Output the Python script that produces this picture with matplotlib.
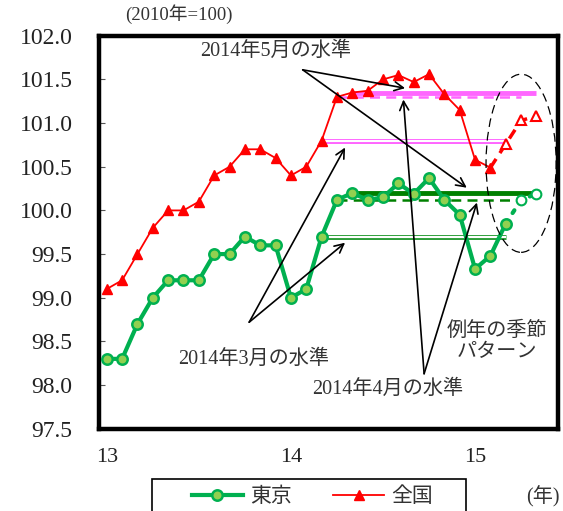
import matplotlib
matplotlib.use("Agg")
import matplotlib.pyplot as plt
from matplotlib.patches import Ellipse, Rectangle
import numpy as np

plt.rcParams['font.family'] = ['Liberation Serif', 'Noto Sans CJK JP', 'DejaVu Sans']

# ---- data (month index: 0 = Jan 2013) ----
zenkoku = [99.1, 99.2, 99.5, 99.8, 100.0, 100.0, 100.1, 100.4, 100.5, 100.7, 100.7, 100.6,
           100.4, 100.5, 100.8, 101.3, 101.35, 101.37, 101.5, 101.55, 101.47, 101.56, 101.33, 101.15,
           100.58, 100.49]
zenkoku_fc = [100.76, 101.03, 101.08]          # Mar-May 2015 (seasonal pattern)
tokyo = [98.3, 98.3, 98.7, 99.0, 99.2, 99.2, 99.2, 99.5, 99.5, 99.7, 99.6, 99.6,
         99.0, 99.1, 99.7, 100.12, 100.2, 100.12, 100.15, 100.31, 100.19, 100.37, 100.12, 99.95,
         99.33, 99.48, 99.85]
tokyo_fc = [100.12, 100.19]                     # Apr-May 2015 (seasonal pattern)
xtick_pos = [0, 12, 24]
xtick_labels = ['13', '14', '15']
yticks = [97.5, 98.0, 98.5, 99.0, 99.5, 100.0, 100.5, 101.0, 101.5, 102.0]

MAR, APR, MAY = 14, 15, 16   # 2014 Mar/Apr/May indices

fig = plt.figure(figsize=(5.63, 5.11), dpi=100)
ax = fig.add_axes([0.176, 0.161, 0.815, 0.769])

GREEN = '#00B050'
LGREEN = '#92D050'
DGREEN = '#008000'
MAG = '#FF66FF'
RED = '#FF0000'
TXT = '#333333'

# ---- level lines ----
def level(series, idx, color, kind):
    y = series[idx]
    xs = [idx, idx + 12]
    if kind == 'thick':
        ax.plot(xs, [y, y], color=color, lw=3.5, zorder=2, solid_capstyle='butt')
    elif kind == 'dash':
        ax.plot(xs, [y, y], color=color, lw=1.8, ls=(0, (4, 2.5)), zorder=2)
    else:
        ax.plot(xs, [y, y], color=color, lw=3.6, zorder=2, solid_capstyle='butt')
        ax.plot(xs, [y, y], color='white', lw=1.5, zorder=2.1, solid_capstyle='butt')

level(zenkoku, MAY, MAG, 'thick')
level(zenkoku, APR, MAG, 'dash')
level(zenkoku, MAR, MAG, 'double')
level(tokyo, MAY, DGREEN, 'thick')
level(tokyo, APR, DGREEN, 'dash')
level(tokyo, MAR, '#2E9E3A', 'double')

# ---- series ----
xz = np.arange(len(zenkoku))
xt = np.arange(len(tokyo))
xz_fc = np.arange(len(zenkoku) - 1, len(zenkoku) + len(zenkoku_fc))
xt_fc = np.arange(len(tokyo) - 1, len(tokyo) + len(tokyo_fc))

ax.plot(xz_fc, [zenkoku[-1]] + zenkoku_fc, color=RED, lw=2.5, ls=(0, (3, 2)), zorder=3)
ax.plot(xz_fc[1:], zenkoku_fc, ls='none', marker='^', ms=7, mfc='white', mec=RED, mew=1.5, zorder=3.5)
ax.plot(xt_fc, [tokyo[-1]] + tokyo_fc, color=GREEN, lw=3, ls=(0, (0.8, 2.2)), zorder=3,
        dash_capstyle='round')
ax.plot(xt_fc[1:], tokyo_fc, ls='none', marker='o', ms=7, mfc='white', mec=GREEN, mew=1.5, zorder=3.5)

ax.plot(xt, tokyo, color=GREEN, lw=3, marker='o', ms=7.5, mfc=LGREEN, mec=GREEN, mew=1.8,
        zorder=3, label='東京')
ax.plot(xz, zenkoku, color=RED, lw=1.3, marker='^', ms=7.5, mfc=RED, mec=RED,
        zorder=3.2, label='全国')

# ---- ellipse ----
ax.add_patch(Ellipse((27.0, 100.54), 4.57, 2.04, fill=False, ec='black', lw=0.9,
                     ls=(0, (7, 4)), zorder=4))

# ---- annotations ----
ap = dict(arrowstyle='->', lw=1.2, color='black', mutation_scale=16, shrinkA=0, shrinkB=0)
def arrows(start, ends):
    for e in ends:
        ax.annotate('', xy=e, xytext=start, arrowprops=ap, zorder=5)

arrows((12.77, 101.61), [(19.44, zenkoku[MAY] + 0.05), (23.46, tokyo[MAY] + 0.06)])
arrows((9.28, 98.72), [(15.53, zenkoku[MAR] - 0.08), (15.53, tokyo[MAR] - 0.07)])
arrows((20.68, 98.13), [(19.33, zenkoku[APR] - 0.03), (24.12, tokyo[APR] - 0.03)])

tk = dict(ha='center', va='center', fontsize=14.5, color=TXT, zorder=6)
ax.text(11.02, 101.82, '2014年5月の水準', **tk)
ax.text(9.59, 98.30, '2014年3月の水準', **tk)
ax.text(18.33, 97.95, '2014年4月の水準', **tk)
ax.text(25.44, 98.50, '例年の季節\nパターン', linespacing=1.15, **tk)

# ---- axes ----
ax.set_xlim(-0.5, 29.4)
ax.set_ylim(97.5, 102.0)
ax.set_yticks(yticks)
ax.set_yticklabels([f'{v:.1f}' for v in yticks])
ax.set_xticks(xtick_pos)
ax.set_xticklabels(xtick_labels)
ax.tick_params(axis='y', direction='in', length=4, width=0.8, labelsize=17, pad=19,
               labelcolor='#222222', color='#555555')
ax.tick_params(axis='x', length=0, labelsize=16, pad=14, labelcolor='#222222')
for s in ax.spines.values():
    s.set_linewidth(3.2)
    s.set_color('black')

fig.text(0.318, 0.972, '(2010年=100)', ha='center', va='center', fontsize=13.5, color=TXT)
fig.text(0.964, 0.027, '(年)', ha='center', va='center', fontsize=14.5, color=TXT)

# legend (frame drawn separately; it runs past the bottom edge as in the reference)
fig.add_artist(Rectangle((0.270, -0.02), 0.558, 0.0826, transform=fig.transFigure,
                         fill=False, ec='black', lw=1.2))
leg = fig.legend(loc='center', bbox_to_anchor=(0.555, 0.027), ncol=2, frameon=False,
                 fontsize=15, handlelength=2.45, columnspacing=2.0, handletextpad=0.35,
                 borderaxespad=0, borderpad=0)
for t in leg.get_texts():
    t.set_color(TXT)

fig.savefig('out.png', dpi=100)
